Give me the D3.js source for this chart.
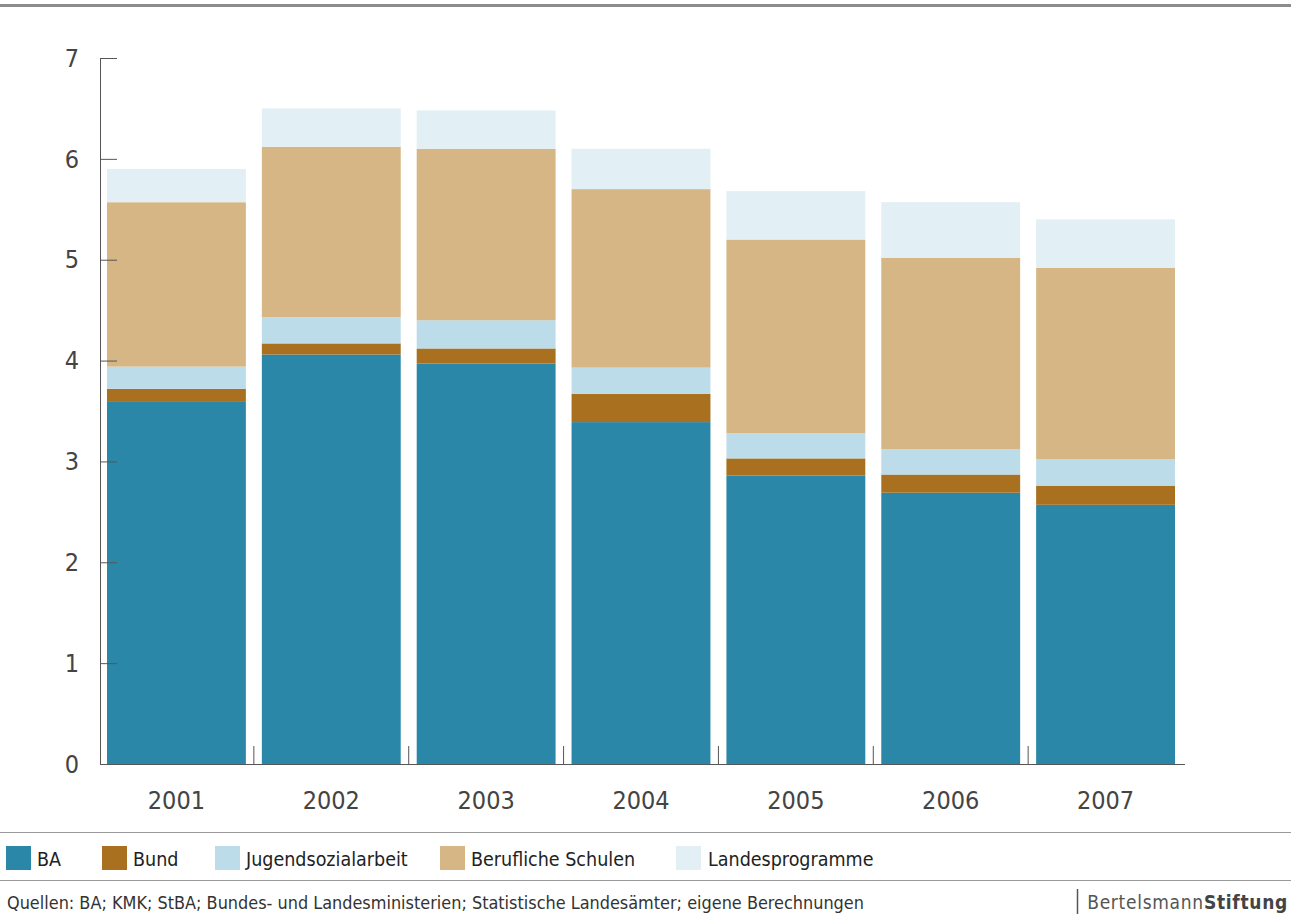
<!DOCTYPE html>
<html>
<head>
<meta charset="utf-8">
<script src="https://cdn.jsdelivr.net/npm/d3@7"></script>
<style>
  body { margin: 0; background: #fff; }
  svg { display: block; font-family: "Liberation Sans Narrow", "DejaVu Sans Condensed", "Open Sans", sans-serif; }
</style>
</head>
<body>
<svg id="chart" width="1297" height="922"></svg>
<script>
// data
const years = ['2001', '2002', '2003', '2004', '2005', '2006', '2007']
const seriesNames = ['BA', 'Bund', 'Jugendsozialarbeit', 'Berufliche Schulen', 'Landesprogramme']
const ba = [3.59, 4.06, 3.97, 3.39, 2.86, 2.69, 2.57]
const bund = [0.13, 0.11, 0.15, 0.28, 0.17, 0.18, 0.19]
const jugend = [0.22, 0.26, 0.28, 0.26, 0.25, 0.25, 0.26]
const berufl = [1.63, 1.69, 1.70, 1.77, 1.92, 1.90, 1.90]
const landes = [0.33, 0.38, 0.38, 0.40, 0.48, 0.55, 0.48]
const yTicks = [0, 1, 2, 3, 4, 5, 6, 7]
const source = 'Quellen: BA; KMK; StBA; Bundes- und Landesministerien; Statistische Landesämter; eigene Berechnungen'

const colors = ['#2b87a7', '#a8701f', '#bddcea', '#d6b685', '#e2eff4']

const width = 1297
const height = 922
const margin = { top: 58, right: 112, bottom: 158, left: 99 }

const svg = d3.select('#chart')

// table for the stack
const table = years.map((y, i) => ({
  year: y,
  BA: ba[i],
  Bund: bund[i],
  Jugendsozialarbeit: jugend[i],
  'Berufliche Schulen': berufl[i],
  Landesprogramme: landes[i],
}))

const stacked = d3.stack().keys(seriesNames)(table)

const x = d3
  .scaleBand()
  .domain(years)
  .range([margin.left, width - margin.right + 1 - 3])
  .paddingInner(0.1032)
  .paddingOuter(0.0516)

const y = d3
  .scaleLinear()
  .domain([0, 7])
  .range([height - margin.bottom, margin.top])

const color = d3.scaleOrdinal(seriesNames, colors)

// top rule
svg.append('rect')
  .attr('x', 0).attr('y', 4)
  .attr('width', 1291).attr('height', 3)
  .attr('fill', '#8c8c8c')

// x axis baseline ticks (between bars)
const gap = years.slice(1).map((d) => x(d) - (x.step() - x.bandwidth()) / 2)
svg.append('g')
  .selectAll('line')
  .data(gap)
  .join('line')
  .attr('x1', (d) => d).attr('x2', (d) => d)
  .attr('y1', y(0)).attr('y2', y(0) - 18)
  .attr('stroke', '#555').attr('stroke-width', 1)

// bars
svg.append('g')
  .attr('id', 'bars')
  .selectAll('g')
  .data(stacked)
  .join('g')
  .attr('fill', (d) => color(d.key))
  .selectAll('rect')
  .data((d) => d)
  .join('rect')
  .attr('x', (d) => x(d.data.year))
  .attr('width', x.bandwidth())
  .attr('y', (d) => y(d[1]))
  .attr('height', (d) => y(d[0]) - y(d[1]))

// y axis
const yAxis = d3.axisRight(y).tickValues(yTicks).tickSize(17).tickFormat('')
const yg = svg.append('g')
  .attr('transform', `translate(${margin.left + 1},0)`)
  .call(yAxis)
yg.select('.domain').attr('stroke', '#555').attr('d', `M0.5,${y(7)}V${y(0)}`)
yg.selectAll('.tick line').attr('stroke', '#555')

svg.append('g')
  .selectAll('text')
  .data(yTicks)
  .join('text')
  .attr('x', 79)
  .attr('y', (d) => y(d))
  .attr('dy', '0.35em')
  .attr('text-anchor', 'end')
  .attr('font-size', 25)
  .attr('fill', '#444')
  .text((d) => d)

// x axis line
svg.append('line')
  .attr('x1', margin.left + 1).attr('x2', width - margin.right)
  .attr('y1', y(0) + 0.5).attr('y2', y(0) + 0.5)
  .attr('stroke', '#555')

// year labels
svg.append('g')
  .selectAll('text')
  .data(years)
  .join('text')
  .attr('x', (d) => x(d) + x.bandwidth() / 2)
  .attr('y', 809)
  .attr('text-anchor', 'middle')
  .attr('font-size', 25)
  .attr('fill', '#444')
  .text((d) => d)

// legend
svg.append('line')
  .attr('x1', 0).attr('x2', 1291)
  .attr('y1', 832.5).attr('y2', 832.5)
  .attr('stroke', '#999')
svg.append('line')
  .attr('x1', 0).attr('x2', 1291)
  .attr('y1', 880.5).attr('y2', 880.5)
  .attr('stroke', '#999')

const legendX = [6, 102, 215, 440, 676]
const legend = svg.append('g')
  .selectAll('g')
  .data(seriesNames)
  .join('g')
  .attr('transform', (d, i) => `translate(${legendX[i]},846)`)
legend.append('rect')
  .attr('width', 25).attr('height', 24)
  .attr('fill', (d) => color(d))
legend.append('text')
  .attr('x', (d, i) => (i === 4 ? 32 : 31))
  .attr('y', 20)
  .attr('font-size', 19.5)
  .attr('fill', '#222')
  .text((d) => d)

// source
svg.append('text')
  .attr('x', 7).attr('y', 909)
  .attr('font-size', 17.9)
  .attr('fill', '#333')
  .text(source)

// logo text
svg.append('line')
  .attr('x1', 1077.5).attr('x2', 1077.5)
  .attr('y1', 889).attr('y2', 914)
  .attr('stroke', '#555').attr('stroke-width', 1.5)
const logo = svg.append('text')
  .attr('x', 1288).attr('y', 909)
  .attr('text-anchor', 'end')
  .attr('font-size', 19)
  .attr('letter-spacing', 0.7)
  .attr('fill', '#555')
logo.append('tspan').text('Bertelsmann')
logo.append('tspan').attr('font-weight', 'bold').attr('fill', '#444').text('Stiftung')
</script>
</body>
</html>
